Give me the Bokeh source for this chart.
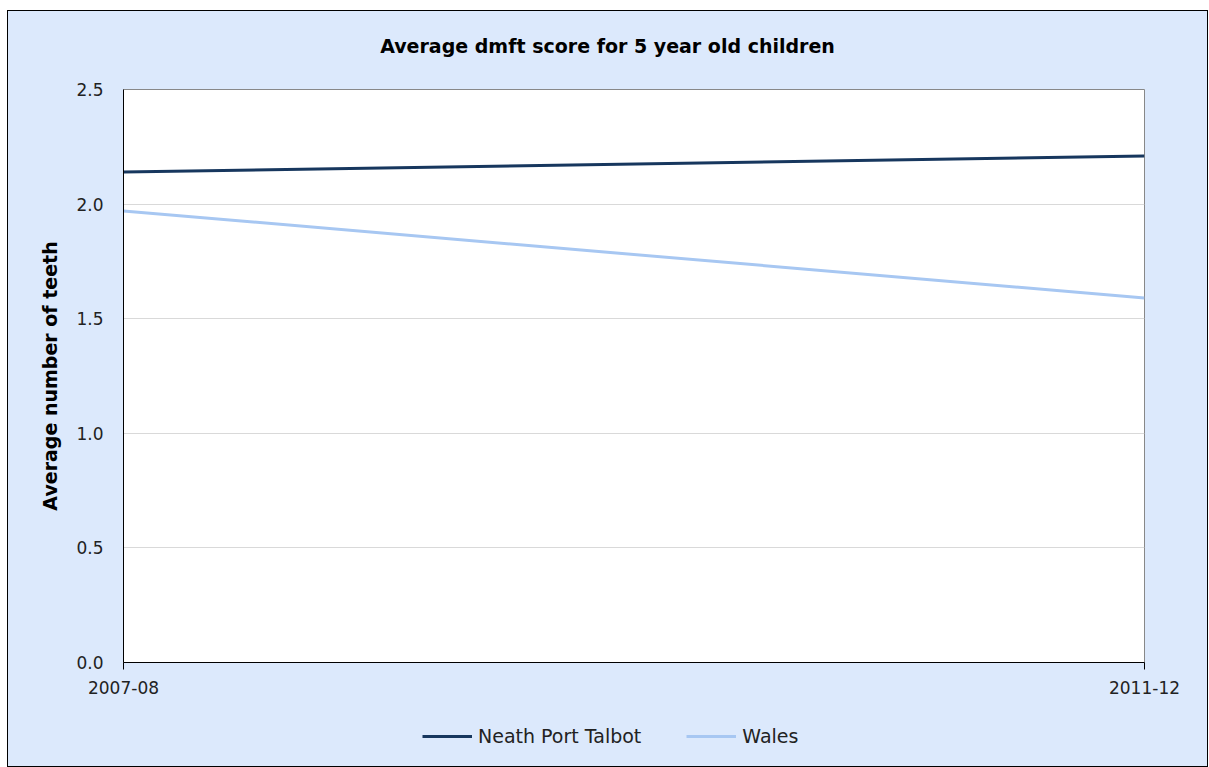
from bokeh.plotting import figure
from bokeh.layouts import column
from bokeh.models import Range1d, FixedTicker, Legend, LegendItem, Label
from bokeh.embed import file_html
from bokeh.resources import INLINE

title = "Average dmft score for 5 year old children"
y_label = "Average number of teeth"
years = ["2007-08", "2011-12"]
neath = [2.14, 2.21]
wales = [1.97, 1.59]
y_ticks = [0.0, 0.5, 1.0, 1.5, 2.0, 2.5]

FONT = "DejaVu Sans"
BG = "#DCE9FC"
NEATH_COLOR = "#17375E"
WALES_COLOR = "#A7C7F2"
W = 1199

x = list(range(len(years)))


def bare(height):
    f = figure(width=W, height=height, output_backend="svg", toolbar_location=None,
               x_axis_location=None, y_axis_location=None,
               x_range=Range1d(10, 11), y_range=Range1d(0, 1),
               min_border=0, min_border_left=0, min_border_right=0,
               min_border_top=0, min_border_bottom=0)
    f.background_fill_color = BG
    f.border_fill_color = BG
    f.outline_line_color = None
    f.grid.grid_line_color = None
    return f


# header with the title
head = bare(50)
head.add_layout(Label(x=484, y=16, x_units="screen", y_units="screen", text=title,
                      text_font=FONT, text_font_size="19px", text_font_style="bold",
                      text_align="center", text_baseline="middle", text_color="black"))

# main chart
p = figure(frame_width=1021, frame_height=573, output_backend="svg", toolbar_location=None,
           x_range=Range1d(0, len(years) - 1), y_range=Range1d(0, 2.5),
           min_border_left=115, min_border_right=63, min_border_top=28, min_border_bottom=55)
p.background_fill_color = "white"
p.border_fill_color = BG
p.outline_line_color = "#888888"
p.outline_line_width = 1

p.line(x, neath, line_color=NEATH_COLOR, line_width=3)
p.line(x, wales, line_color=WALES_COLOR, line_width=3)

p.xaxis.ticker = FixedTicker(ticks=x)
p.xaxis.major_label_overrides = {i: s for i, s in enumerate(years)}
p.xaxis.minor_tick_line_color = None
p.xaxis.major_tick_in = 0
p.xaxis.major_tick_out = 7
p.xaxis.axis_line_color = "black"
p.xaxis.major_tick_line_color = "black"
p.xaxis.major_label_text_font = FONT
p.xaxis.major_label_text_font_size = "17px"
p.xaxis.major_label_text_color = "#222222"
p.xaxis.major_label_standoff = 11

p.yaxis.ticker = FixedTicker(ticks=y_ticks)
p.yaxis.major_label_overrides = {t: f"{t:.1f}" for t in y_ticks}
p.yaxis.minor_tick_line_color = None
p.yaxis.major_tick_line_color = None
p.yaxis.axis_line_color = "black"
p.yaxis.major_label_text_font = FONT
p.yaxis.major_label_text_font_size = "17px"
p.yaxis.major_label_text_color = "#222222"
p.yaxis.major_label_standoff = 14
p.yaxis.axis_label = y_label
p.yaxis.axis_label_text_font = FONT
p.yaxis.axis_label_text_font_size = "19px"
p.yaxis.axis_label_text_font_style = "bold"
p.yaxis.axis_label_text_color = "black"
p.yaxis.axis_label_standoff = 12

p.xgrid.grid_line_color = None
p.ygrid.grid_line_color = "#D9D9D9"
p.ygrid.ticker = FixedTicker(ticks=y_ticks)

# legend strip (its lines lie outside its range, only the legend shows)
foot = bare(49)
l1 = foot.line(x, neath, line_color=NEATH_COLOR, line_width=3)
l2 = foot.line(x, wales, line_color=WALES_COLOR, line_width=3)
legend = Legend(items=[LegendItem(label="Neath Port Talbot", renderers=[l1]),
                       LegendItem(label="Wales", renderers=[l2])],
                orientation="horizontal", location=(299, 19),
                background_fill_alpha=0, border_line_color=None, padding=0, margin=0,
                label_text_font=FONT, label_text_font_size="19px", label_text_color="#222222",
                glyph_width=50, glyph_height=14, label_height=14,
                spacing=45, label_standoff=6)
foot.add_layout(legend, "center")

layout = column(head, p, foot, spacing=0,
                styles={"border": "1px solid black", "margin-left": "7px",
                        "margin-top": "10px", "background-color": BG})

open("out.html", "w").write(file_html(layout, INLINE))
